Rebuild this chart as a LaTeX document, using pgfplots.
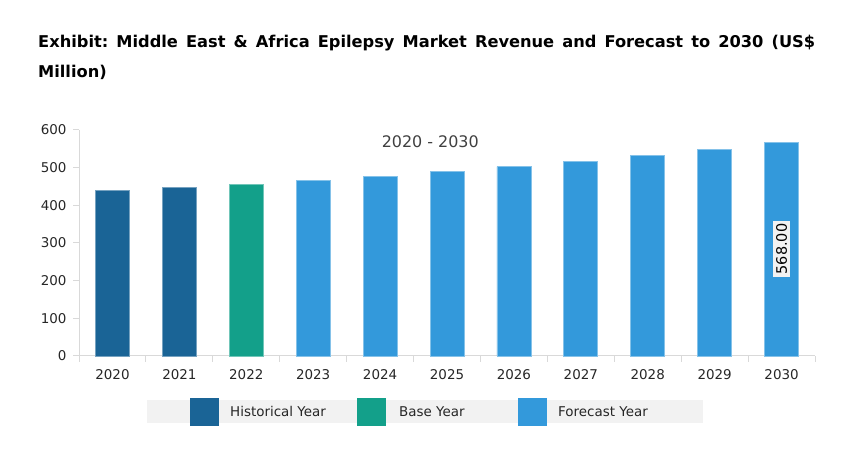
\documentclass[border=0pt]{standalone}
\usepackage{pgfplots}
\pgfplotsset{compat=1.18}
\usepackage{fontspec}
\setmainfont{DejaVu Sans}
\frenchspacing
\definecolor{histc}{HTML}{1A6496}
\definecolor{basec}{HTML}{13A08A}
\definecolor{forec}{HTML}{3399DB}
\definecolor{axisgray}{HTML}{D9D9D9}
\definecolor{bandgray}{HTML}{F2F2F2}
\begin{document}
\begin{tikzpicture}[x=1bp,y=1bp]
\useasboundingbox (0,0) rectangle (852,455);
% title
\node[anchor=base west, inner sep=0, font=\fontsize{16.3}{18}\selectfont\bfseries] at (38,407)
  {\makebox[777bp][s]{Exhibit: Middle East \& Africa Epilepsy Market Revenue and Forecast to 2030 (US\$}};
\node[anchor=base west, inner sep=0, font=\fontsize{16.3}{18}\selectfont\bfseries] at (38,377) {Million)};

\begin{axis}[
  at={(79bp,99bp)}, anchor=south west,
  scale only axis, width=736bp, height=226bp,
  ybar, bar width=34bp,
  xmin=-0.5, xmax=10.5, ymin=0, ymax=600,
  enlargelimits=false,
  axis x line*=bottom, axis y line*=left,
  axis line style={axisgray, line width=1bp},
  xtick={0,...,10},
  xticklabels={2020,2021,2022,2023,2024,2025,2026,2027,2028,2029,2030},
  minor xtick={-0.5,0.5,...,10.5},
  major x tick style={draw=none},
  minor x tick style={axisgray, line width=1bp},
  minor tick length=6bp,
  ytick={0,100,...,600},
  y tick style={axisgray, line width=1bp},
  major tick length=6bp,
  tick align=outside,
  tick label style={font=\fontsize{13.5}{15}\selectfont, text=black!85},
  /pgf/number format/assume math mode=true,
  xticklabel style={yshift=-4bp},
  yticklabel style={xshift=-3bp},
  clip=false,
]
\addplot[fill=histc, draw=histc!60!white, line width=0.8bp, bar shift=0pt] coordinates {(0,440) (1,447)};
\addplot[fill=basec, draw=basec!60!white, line width=0.8bp, bar shift=0pt] coordinates {(2,456)};
\addplot[fill=forec, draw=forec!60!white, line width=0.8bp, bar shift=0pt] coordinates {
  (3,465) (4,476) (5,490) (6,503) (7,517) (8,532) (9,548) (10,568)};
\node[rotate=90, fill=bandgray, inner xsep=3bp, inner ysep=3bp, font=\fontsize{14.5}{16}\selectfont] at (axis cs:10,284) {568.00};
\node[font=\fontsize{16}{18}\selectfont, text=black!75] at (axis cs:4.75,568) {2020 - 2030};
\end{axis}

% legend
\fill[bandgray] (147,32) rectangle (703,55);
\fill[histc] (190,29) rectangle (219,57);
\fill[basec] (357,29) rectangle (386,57);
\fill[forec] (518,29) rectangle (547,57);
\begin{scope}[every node/.style={anchor=west, inner sep=0, font=\fontsize{13.5}{15}\selectfont, text=black!85}]
\node at (230,43.5) {Historical Year};
\node at (399,43.5) {Base Year};
\node at (558,43.5) {Forecast Year};
\end{scope}
\end{tikzpicture}
\end{document}
